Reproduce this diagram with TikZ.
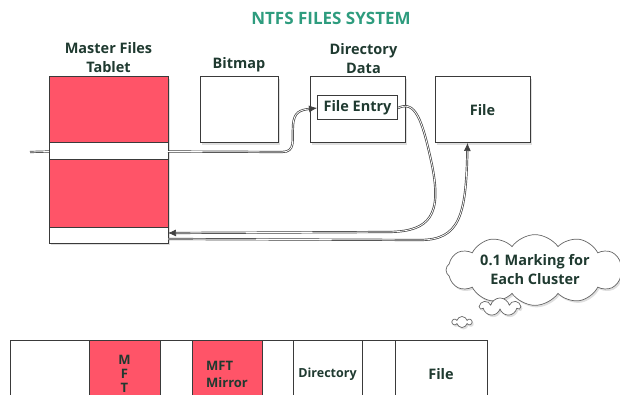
\documentclass[tikz,border=0pt]{standalone}
\usepackage{fontspec}
\setmainfont{Open Sans}
\usetikzlibrary{arrows.meta,positioning,shapes.symbols,shadows}
\definecolor{titlegreen}{HTML}{2E9C7E}
\definecolor{mftred}{HTML}{FF5468}
\definecolor{ink}{HTML}{1F3A30}
\definecolor{edge}{HTML}{3A3A3A}

\begin{document}
\begin{tikzpicture}[x=1pt, y=-1pt, node distance=32pt, font=\bfseries\fontsize{14.5}{19}\selectfont, text=ink,
  shade/.style={drop shadow={opacity=0.25, shadow xshift=1.5pt, shadow yshift=-2pt}},
  box/.style={draw=edge, fill=white, line width=1pt, inner sep=0pt, outer sep=0pt, minimum height=66pt, shade},
  part/.style={draw=edge, fill=white, line width=1pt, inner sep=0pt, outer sep=0pt, minimum width=119pt},
  cell/.style={draw=edge, fill=white, line width=1pt, inner sep=0pt, outer sep=0pt, minimum height=68pt, align=center},
  lbl/.style={align=center, inner sep=0pt},
  link/.style={draw=black!75, double=white, double distance=0.8pt, line width=0.7pt},
  tip/.style={-{Latex[length=8pt, width=7pt]}},
  puff/.style={cloud, draw=black!60, fill=white, line width=0.7pt, inner sep=0pt, align=center, shade}]
\useasboundingbox (0,0) rectangle (620,395);

\node[font=\bfseries\fontsize{17}{20}\selectfont, text=titlegreen] (ttl) at (331,18) {NTFS FILES SYSTEM};

% master file table column
\node[box, minimum width=119pt, minimum height=166pt, anchor=north west] (mft) at (49,77) {};
\node[part, fill=mftred, minimum height=66pt, anchor=north] (mfttop) at (mft.north) {};
\node[part, minimum height=17pt, below=0pt of mfttop] (mftgap1) {};
\node[part, fill=mftred, minimum height=67pt, below=0pt of mftgap1] (mftmid) {};
\node[part, minimum height=16pt, below=0pt of mftmid] (mftgap2) {};
\node[lbl, above=4pt of mft] (mftlbl) {Master Files\\Tablet};

% top row
\node[box, minimum width=78pt, right=of mfttop] (bitmap) {};
\node[box, minimum width=95pt, right=of bitmap] (dirdata) {};
\node[box, minimum width=95pt, right=30pt of dirdata] (file) {File};
\node[draw=edge, line width=1pt, minimum width=80pt, minimum height=24pt, inner sep=0pt] (entry) at ([yshift=2pt]dirdata.center) {File Entry};
\node[lbl, above=5pt of bitmap] (bitmaplbl) {Bitmap};
\node[lbl, above=3pt of dirdata, xshift=6pt] (dirlbl) {Directory\\Data};

% connectors
\coordinate (stub) at (30,152);
\draw[link] (stub) -- (mftgap1.west);
\draw[link, tip] (mftgap1.east) -- (282,152) .. controls (296,152) and (292,140) .. (293,125) .. controls (294,112) and (300,110) .. (entry.west);
\draw[link, tip] (entry.east) .. controls (415,100) and (422,118) .. (432,165) .. controls (442,215) and (430,231) .. (390,232) -- ([yshift=2pt]mftgap2.east);
\draw[link, tip] ([yshift=-4pt]mftgap2.east) -- (420,240) .. controls (460,240) and (466,215) .. ([xshift=-15pt]file.south);

% thought cloud
\node[puff, cloud puffs=12, cloud puff arc=110, aspect=3, minimum width=178pt, minimum height=60pt] (note) at (535,270) {0.1 Marking for\\Each Cluster};
\node[puff, cloud puffs=7, minimum width=40pt, minimum height=18pt] (puffa) at (500,307) {};
\node[puff, cloud puffs=6, minimum width=19pt, minimum height=11pt] (puffb) at (462,322) {};

% disk layout strip
\node[cell, minimum width=79pt, anchor=north west] (c1) at (10,340) {};
\node[cell, fill=mftred, minimum width=71pt, right=0pt of c1, font=\bfseries\fontsize{13}{14}\selectfont] (cmft) {M\\F\\T};
\node[cell, minimum width=32pt, right=0pt of cmft] (c2) {};
\node[cell, fill=mftred, minimum width=70pt, right=0pt of c2, align=left, font=\bfseries\fontsize{13}{17}\selectfont] (cmirror) {MFT\\Mirror};
\node[cell, minimum width=31pt, right=0pt of cmirror] (c3) {};
\node[cell, minimum width=69pt, right=0pt of c3, font=\bfseries\fontsize{12.5}{14}\selectfont] (cdir) {Directory};
\node[cell, minimum width=33pt, right=0pt of cdir] (c4) {};
\node[cell, minimum width=92pt, right=0pt of c4] (cfile) {File};
\end{tikzpicture}
\end{document}
